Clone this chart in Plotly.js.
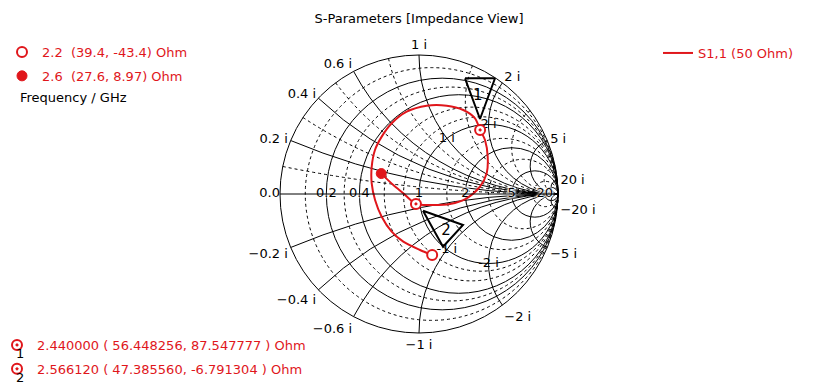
<!DOCTYPE html>
<html>
<head>
<meta charset="utf-8">
<script src="https://cdn.plot.ly/plotly-3.0.1.min.js"></script>
<style>html,body{margin:0;padding:0;background:#fff;}#chart{width:838px;height:387px;}</style>
</head>
<body>
<div id="chart"></div>
<script>
// S1,1 curve, normalized impedance (Z / 50 Ohm), 2.2 GHz -> 2.6 GHz
const curveReal = [0.788, 0.730, 0.641, 0.590, 0.551, 0.518, 0.487, 0.461, 0.436, 0.426, 0.416, 0.418, 0.458, 0.533, 0.643, 0.829, 1.129, 1.462, 2.086, 2.596, 2.533, 2.038, 1.552, 1.212, 0.948, 0.797, 0.683, 0.552];
const curveImag = [-0.868, -0.702, -0.506, -0.360, -0.200, -0.050, 0.086, 0.214, 0.345, 0.464, 0.602, 0.771, 0.980, 1.216, 1.457, 1.668, 1.751, 1.821, 1.637, 1.044, 0.330, -0.143, -0.236, -0.195, -0.136, 0.008, 0.092, 0.179];
const Z0 = 50;
// start / end points (Ohm)
const startFreq = 2.2, startR = 39.4, startX = -43.4;
const endFreq = 2.6, endR = 27.6, endX = 8.97;
// markers (Ohm)
const markerNames = ['1', '2'];
const markerFreq = ['2.440000', '2.566120'];
const markerR = [56.448256, 47.385560];
const markerX = [87.547777, -6.791304];
// marker label triangles (normalized impedance of the corners)
const tri1Real = [0.173, 0.009, 0.852, 0.173];
const tri1Imag = [1.460, 1.853, 1.781, 1.460];
const tri2Real = [1.028, 1.645, 0.998, 1.028];
const tri2Imag = [-0.251, -0.863, -0.916, -0.251];
const triLabelReal = [0.40, 1.238];
const triLabelImag = [1.70, -0.739];
// grid / tick values
const majorReal = [0.2, 0.4, 1, 2, 5, 20];
const majorRealText = ['0.2', '0.4', '1', '2', '5', '20'];
const zeroLabel = '0.0';
const majorImag = [-20, -5, -2, -1, -0.6, -0.4, -0.2, 0.2, 0.4, 0.6, 1, 2, 5, 20];
const minorReal = [0.1, 0.3, 0.6, 0.8, 1.5, 3, 10];
const minorImag = [0.1, 0.3, 0.5, 0.8, 1.5, 3, 10];
const innerLabelReal = [1, 1, 1, 1];
const innerLabelImag = [1, 2, -1, -2];
const innerLabelText = ['1 i', '2 i', '-1 i', '-2 i'];

const RED = '#e0161b';
const FONT = 'DejaVu Sans';
const WHITE_SHADOW = '0 0 2px #fff, 0 0 2px #fff, 0 0 2px #fff, 0 0 3px #fff, 0 0 3px #fff, 0 0 3px #fff';

const traces = [
  { type: 'scattersmith', subplot: 'smith', mode: 'text',
    real: innerLabelReal, imag: innerLabelImag, text: innerLabelText,
    textposition: 'middle center', textfont: {family: FONT, size: 13, color: '#000'},
    showlegend: false, hoverinfo: 'skip' },
  { type: 'scattersmith', subplot: 'smith2', mode: 'text',
    real: majorReal, imag: majorReal.map(() => 0), text: majorRealText,
    textposition: 'middle center', textfont: {family: FONT, size: 13, color: '#000', shadow: WHITE_SHADOW},
    showlegend: false, hoverinfo: 'skip' },
  { type: 'scattersmith', subplot: 'smith2', mode: 'text',
    real: [0], imag: [0], text: [zeroLabel],
    textposition: 'middle left', textfont: {family: FONT, size: 13, color: '#000'},
    showlegend: false, hoverinfo: 'skip' },
  { type: 'scattersmith', subplot: 'smith2', mode: 'lines', name: 'S1,1 (50 Ohm)',
    real: curveReal, imag: curveImag, line: {color: RED, width: 2, shape: 'spline', smoothing: 0.8},
    legend: 'legend' },
  { type: 'scattersmith', subplot: 'smith2', mode: 'lines', real: tri1Real, imag: tri1Imag,
    line: {color: '#000', width: 2}, showlegend: false, hoverinfo: 'skip' },
  { type: 'scattersmith', subplot: 'smith2', mode: 'lines', real: tri2Real, imag: tri2Imag,
    line: {color: '#000', width: 2}, showlegend: false, hoverinfo: 'skip' },
  { type: 'scattersmith', subplot: 'smith2', mode: 'text', real: triLabelReal, imag: triLabelImag,
    text: markerNames, textposition: 'middle center', textfont: {family: FONT, size: 15, color: '#000'},
    showlegend: false, hoverinfo: 'skip' },
  { type: 'scattersmith', subplot: 'smith2', mode: 'markers',
    name: startFreq + '\u00a0\u00a0(' + startR + ', ' + startX + ') Ohm',
    real: [startR / Z0], imag: [startX / Z0],
    marker: {symbol: 'circle', size: 10, color: '#fff', line: {color: RED, width: 2}},
    legend: 'legend2', legendgroup: 'a' },
  { type: 'scattersmith', subplot: 'smith2', mode: 'markers',
    name: endFreq + '\u00a0\u00a0(' + endR + ', ' + endX + ') Ohm',
    real: [endR / Z0], imag: [endX / Z0],
    marker: {symbol: 'circle', size: 10, color: RED, line: {color: RED, width: 1}},
    legend: 'legend2', legendgroup: 'b' }
];
for (let i = 0; i < markerNames.length; i++) {
  traces.push({ type: 'scattersmith', subplot: 'smith2', mode: 'markers',
    name: markerFreq[i] + ' ( ' + markerR[i].toFixed(6) + ', ' + markerX[i].toFixed(6) + ' ) Ohm',
    real: [markerR[i] / Z0], imag: [markerX[i] / Z0],
    marker: {symbol: 'circle-dot', size: 10, color: '#fff', line: {color: RED, width: 2}},
    legend: 'legend3', legendgroup: 'm' + i });
}

const dom = {x: [280 / 838, 558 / 838], y: [1 - 333 / 387, 1 - 55 / 387]};
const tf = {family: FONT, size: 13, color: '#000'};
const layout = {
  width: 838, height: 387,
  margin: {l: 0, r: 0, t: 0, b: 0, autoexpand: false},
  paper_bgcolor: '#fff',
  font: {family: FONT, size: 13, color: '#000'},
  title: {text: 'S-Parameters [Impedance View]', font: {family: FONT, size: 13, color: '#000'},
          x: 0.5, xanchor: 'center', y: 1 - 18 / 387, yanchor: 'middle'},
  smith: {
    domain: dom, bgcolor: 'rgba(0,0,0,0)',
    realaxis: {tickvals: minorReal, showgrid: true, gridcolor: '#000', gridwidth: 1, griddash: '3px,3px',
               showticklabels: false, showline: false, ticks: ''},
    imaginaryaxis: {tickvals: minorImag, showgrid: true, gridcolor: '#000', gridwidth: 1, griddash: '3px,3px',
               showticklabels: false, showline: false, ticks: ''}
  },
  smith2: {
    domain: dom, bgcolor: 'rgba(0,0,0,0)',
    realaxis: {tickvals: majorReal, showgrid: true, gridcolor: '#000', gridwidth: 1,
               showline: true, linecolor: '#000', linewidth: 1, ticks: '', showticklabels: false},
    imaginaryaxis: {tickvals: majorImag, showgrid: true, gridcolor: '#000', gridwidth: 1,
               showline: true, linecolor: '#000', linewidth: 1, ticks: '', tickfont: tf, ticksuffix: ' i'}
  },
  legend: {x: 658 / 838, xanchor: 'left', y: 1 - 38 / 387, yanchor: 'top',
           font: {family: FONT, size: 13, color: RED}, bgcolor: 'rgba(0,0,0,0)'},
  legend2: {x: 2 / 838, xanchor: 'left', y: 1 - 37 / 387, yanchor: 'top', tracegroupgap: 4,
           font: {family: FONT, size: 13, color: RED}, bgcolor: 'rgba(0,0,0,0)'},
  legend3: {x: -3 / 838, xanchor: 'left', y: 1 - 330 / 387, yanchor: 'top', tracegroupgap: 4,
           font: {family: FONT, size: 13, color: RED}, bgcolor: 'rgba(0,0,0,0)'},
  annotations: [
    {text: 'Frequency / GHz', xref: 'paper', yref: 'paper', x: 18 / 838, y: 1 - 98 / 387,
     xanchor: 'left', yanchor: 'middle', showarrow: false, font: tf},
    {text: markerNames[0], xref: 'paper', yref: 'paper', x: 20 / 838, y: 1 - 353 / 387,
     xanchor: 'center', yanchor: 'middle', showarrow: false, font: tf},
    {text: markerNames[1], xref: 'paper', yref: 'paper', x: 20 / 838, y: 1 - 377 / 387,
     xanchor: 'center', yanchor: 'middle', showarrow: false, font: tf}
  ],
  showlegend: true
};
Plotly.newPlot('chart', traces, layout, {staticPlot: true, displayModeBar: false}).then(gd => {
  // the reference has no infinity label at the open-circuit point
  gd.querySelectorAll('text').forEach(t => { if (t.textContent.trim() === '\u221e') t.remove(); });
});
</script>
</body>
</html>
